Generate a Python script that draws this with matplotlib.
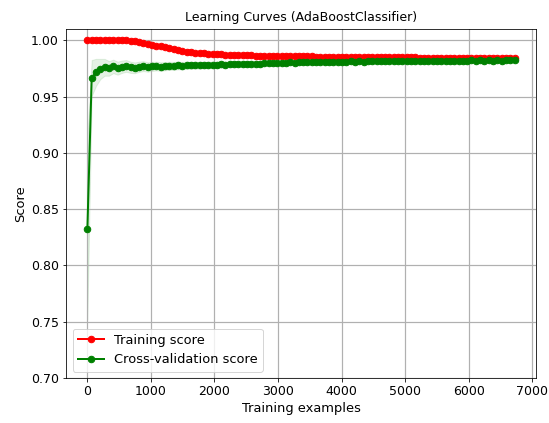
import numpy as np
import matplotlib
matplotlib.use("Agg")
import matplotlib.pyplot as plt

# --- training set sizes
train_sizes = [
    6, 74, 142, 210, 277, 345, 413, 481, 549, 617,
    684, 752, 820, 888, 956, 1023, 1091, 1159, 1227, 1295,
    1362, 1430, 1498, 1566, 1634, 1701, 1769, 1837, 1905, 1973,
    2041, 2108, 2176, 2244, 2312, 2380, 2447, 2515, 2583, 2651,
    2719, 2786, 2854, 2922, 2990, 3058, 3126, 3193, 3261, 3329,
    3397, 3465, 3532, 3600, 3668, 3736, 3804, 3871, 3939, 4007,
    4075, 4143, 4211, 4278, 4346, 4414, 4482, 4550, 4617, 4685,
    4753, 4821, 4889, 4956, 5024, 5092, 5160, 5228, 5295, 5363,
    5431, 5499, 5567, 5635, 5702, 5770, 5838, 5906, 5974, 6041,
    6109, 6177, 6245, 6313, 6380, 6448, 6516, 6584, 6652, 6720,
]

# --- mean training score
train_mean = [
    1.0000, 1.0000, 1.0000, 1.0000, 1.0000, 1.0000, 1.0000, 1.0000, 1.0000, 0.9998,
    0.9994, 0.9990, 0.9986, 0.9978, 0.9968, 0.9960, 0.9952, 0.9946, 0.9943, 0.9932,
    0.9920, 0.9911, 0.9904, 0.9898, 0.9894, 0.9890, 0.9887, 0.9884, 0.9881, 0.9879,
    0.9877, 0.9875, 0.9873, 0.9871, 0.9869, 0.9868, 0.9867, 0.9866, 0.9865, 0.9864,
    0.9863, 0.9862, 0.9861, 0.9861, 0.9860, 0.9860, 0.9859, 0.9858, 0.9858, 0.9857,
    0.9857, 0.9856, 0.9856, 0.9855, 0.9855, 0.9854, 0.9854, 0.9853, 0.9853, 0.9852,
    0.9852, 0.9852, 0.9851, 0.9851, 0.9851, 0.9850, 0.9850, 0.9850, 0.9849, 0.9849,
    0.9849, 0.9848, 0.9848, 0.9848, 0.9847, 0.9847, 0.9847, 0.9846, 0.9846, 0.9846,
    0.9845, 0.9845, 0.9845, 0.9845, 0.9844, 0.9844, 0.9844, 0.9844, 0.9843, 0.9843,
    0.9843, 0.9843, 0.9842, 0.9842, 0.9842, 0.9842, 0.9841, 0.9841, 0.9841, 0.9841,
]
train_std = [
    0.0000, 0.0000, 0.0000, 0.0000, 0.0000, 0.0000, 0.0000, 0.0002, 0.0004, 0.0006,
    0.0008, 0.0010, 0.0012, 0.0014, 0.0016, 0.0018, 0.0018, 0.0018, 0.0018, 0.0017,
    0.0016, 0.0016, 0.0015, 0.0015, 0.0014, 0.0014, 0.0013, 0.0013, 0.0012, 0.0012,
    0.0012, 0.0011, 0.0011, 0.0011, 0.0010, 0.0010, 0.0010, 0.0010, 0.0009, 0.0009,
    0.0009, 0.0009, 0.0009, 0.0008, 0.0008, 0.0008, 0.0008, 0.0008, 0.0008, 0.0007,
    0.0007, 0.0007, 0.0007, 0.0007, 0.0007, 0.0007, 0.0006, 0.0006, 0.0006, 0.0006,
    0.0006, 0.0006, 0.0006, 0.0006, 0.0006, 0.0005, 0.0005, 0.0005, 0.0005, 0.0005,
    0.0005, 0.0005, 0.0005, 0.0005, 0.0005, 0.0005, 0.0005, 0.0004, 0.0004, 0.0004,
    0.0004, 0.0004, 0.0004, 0.0004, 0.0004, 0.0004, 0.0004, 0.0004, 0.0004, 0.0004,
    0.0004, 0.0004, 0.0004, 0.0004, 0.0004, 0.0004, 0.0004, 0.0004, 0.0004, 0.0004,
]

# --- mean cross-validation score
test_mean = [
    0.8320, 0.9665, 0.9715, 0.9745, 0.9760, 0.9750, 0.9768, 0.9752, 0.9765, 0.9772,
    0.9760, 0.9755, 0.9765, 0.9770, 0.9762, 0.9768, 0.9771, 0.9766, 0.9770, 0.9774,
    0.9772, 0.9776, 0.9774, 0.9778, 0.9776, 0.9779, 0.9777, 0.9781, 0.9779, 0.9783,
    0.9782, 0.9785, 0.9784, 0.9787, 0.9785, 0.9789, 0.9788, 0.9791, 0.9790, 0.9793,
    0.9792, 0.9795, 0.9794, 0.9797, 0.9796, 0.9800, 0.9799, 0.9803, 0.9801, 0.9805,
    0.9803, 0.9806, 0.9804, 0.9807, 0.9806, 0.9809, 0.9807, 0.9810, 0.9808, 0.9811,
    0.9809, 0.9812, 0.9810, 0.9813, 0.9811, 0.9814, 0.9812, 0.9815, 0.9813, 0.9815,
    0.9814, 0.9816, 0.9814, 0.9817, 0.9815, 0.9817, 0.9815, 0.9818, 0.9816, 0.9818,
    0.9816, 0.9819, 0.9817, 0.9819, 0.9817, 0.9820, 0.9818, 0.9820, 0.9818, 0.9821,
    0.9819, 0.9821, 0.9819, 0.9822, 0.9820, 0.9822, 0.9820, 0.9823, 0.9821, 0.9822,
]
test_std = [
    0.0800, 0.0160, 0.0120, 0.0090, 0.0075, 0.0065, 0.0060, 0.0058, 0.0055, 0.0052,
    0.0050, 0.0048, 0.0046, 0.0044, 0.0042, 0.0040, 0.0039, 0.0038, 0.0037, 0.0036,
    0.0035, 0.0034, 0.0033, 0.0032, 0.0031, 0.0030, 0.0030, 0.0029, 0.0029, 0.0028,
    0.0028, 0.0027, 0.0027, 0.0026, 0.0026, 0.0025, 0.0025, 0.0025, 0.0024, 0.0024,
    0.0024, 0.0023, 0.0023, 0.0023, 0.0022, 0.0022, 0.0022, 0.0022, 0.0021, 0.0021,
    0.0021, 0.0021, 0.0020, 0.0020, 0.0020, 0.0020, 0.0020, 0.0019, 0.0019, 0.0019,
    0.0019, 0.0019, 0.0019, 0.0018, 0.0018, 0.0018, 0.0018, 0.0018, 0.0018, 0.0018,
    0.0017, 0.0017, 0.0017, 0.0017, 0.0017, 0.0017, 0.0017, 0.0017, 0.0016, 0.0016,
    0.0016, 0.0016, 0.0016, 0.0016, 0.0016, 0.0016, 0.0016, 0.0015, 0.0015, 0.0015,
    0.0015, 0.0015, 0.0015, 0.0015, 0.0015, 0.0015, 0.0015, 0.0015, 0.0015, 0.0015,
]

x = np.array(train_sizes)
tr_m, tr_s = np.array(train_mean), np.array(train_std)
te_m, te_s = np.array(test_mean), np.array(test_std)

# ===========================================================
# Plot
# ===========================================================
plt.rcParams['font.size'] = 12.5

fig = plt.figure(figsize=(549 / 72, 423 / 72), dpi=72)
ax = fig.add_axes([66 / 549, 45 / 423, 470 / 549, 349 / 423])

ax.set_title("Learning Curves (AdaBoostClassifier)", fontsize=12.5, pad=8)
ax.set_ylim(0.7, 1.01)
ax.set_xlabel("Training examples", fontsize=13)
ax.set_ylabel("Score", fontsize=13)
ax.tick_params(labelsize=12.5)
ax.grid(linewidth=1.2)

ax.fill_between(x, tr_m - tr_s, tr_m + tr_s, alpha=0.1, color="r")
ax.fill_between(x, te_m - te_s, te_m + te_s, alpha=0.1, color="g")
ax.plot(x, tr_m, 'o-', color="r", lw=2, ms=6.5, label="Training score")
ax.plot(x, te_m, 'o-', color="g", lw=2, ms=6.5, label="Cross-validation score")
ax.legend(loc="best", fontsize=13)

fig.savefig("out.png", dpi=72)
